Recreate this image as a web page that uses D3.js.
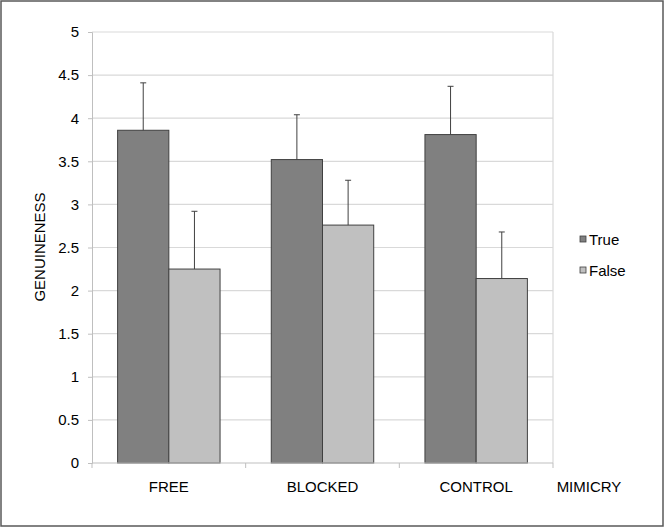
<!DOCTYPE html>
<html>
<head>
<meta charset="utf-8">
<script src="https://cdn.jsdelivr.net/npm/d3@7"></script>
<style>
  body { margin: 0; background: #fff; }
  text { font-family: "Liberation Sans", Arial, sans-serif; fill: #000; }
</style>
</head>
<body>
<div class="chart"></div>
<script>
const categories = ['FREE', 'BLOCKED', 'CONTROL']
const series = ['True', 'False']
const trueValues = [3.86, 3.52, 3.81]
const falseValues = [2.25, 2.76, 2.14]
const trueErrors = [0.55, 0.52, 0.56]
const falseErrors = [0.67, 0.52, 0.54]
const yTicks = [0, 0.5, 1, 1.5, 2, 2.5, 3, 3.5, 4, 4.5, 5]
const colors = ['#808080', '#c0c0c0']

const W = 664, H = 527
const margin = { top: 32, right: 111, bottom: 64, left: 92 }
const width = W - margin.left - margin.right
const height = H - margin.top - margin.bottom

const svg = d3.select('.chart').append('svg').attr('width', W).attr('height', H)

// outer frame
svg.append('rect').attr('x', 1).attr('y', 1).attr('width', W - 2).attr('height', H - 2)
  .attr('fill', '#fff').attr('stroke', '#595959').attr('stroke-width', 1.5)

const g = svg.append('g').attr('transform', `translate(${margin.left}, ${margin.top})`)

const y = d3.scaleLinear().domain([0, 5]).range([height, 0])
const x0 = d3.scaleBand().domain(categories).range([0, width]).paddingInner(1 / 3).paddingOuter(1 / 6)
const x1 = d3.scaleBand().domain(series).range([0, x0.bandwidth()])

// gridlines
g.selectAll('.grid').data(yTicks.slice(1)).join('line')
  .attr('x1', 0).attr('x2', width)
  .attr('y1', d => y(d)).attr('y2', d => y(d))
  .attr('stroke', '#d9d9d9').attr('stroke-width', 1.2)
g.append('line').attr('x1', width).attr('x2', width).attr('y1', 0).attr('y2', height)
  .attr('stroke', '#d9d9d9').attr('stroke-width', 1.2)

// y axis
const yAxis = d3.axisLeft(y).tickValues(yTicks).tickSize(4).tickPadding(9).tickFormat(d3.format('~g'))
const ya = g.append('g').call(yAxis)
ya.select('.domain').attr('stroke', '#bfbfbf')
ya.selectAll('.tick line').attr('stroke', '#bfbfbf')
ya.selectAll('text').style('font-size', '15px').style('font-family', '"Liberation Sans", Arial, sans-serif')

// bars
const rows = categories.map((c, i) => ({
  cat: c,
  vals: [
    { s: 'True', v: trueValues[i], e: trueErrors[i] },
    { s: 'False', v: falseValues[i], e: falseErrors[i] }
  ]
}))

const groups = g.selectAll('.grp').data(rows).join('g')
  .attr('transform', d => `translate(${x0(d.cat)}, 0)`)

groups.selectAll('rect').data(d => d.vals).join('rect')
  .attr('x', d => x1(d.s)).attr('width', x1.bandwidth())
  .attr('y', d => y(d.v)).attr('height', d => height - y(d.v))
  .attr('fill', (d, i) => colors[i])
  .attr('stroke', '#404040').attr('stroke-width', 1)

// error bars
const eb = groups.selectAll('.eb').data(d => d.vals).join('g')
eb.append('line')
  .attr('x1', d => x1(d.s) + x1.bandwidth() / 2).attr('x2', d => x1(d.s) + x1.bandwidth() / 2)
  .attr('y1', d => y(d.v)).attr('y2', d => y(d.v + d.e))
  .attr('stroke', '#404040').attr('stroke-width', 1)
eb.append('line')
  .attr('x1', d => x1(d.s) + x1.bandwidth() / 2 - 3).attr('x2', d => x1(d.s) + x1.bandwidth() / 2 + 3)
  .attr('y1', d => y(d.v + d.e)).attr('y2', d => y(d.v + d.e))
  .attr('stroke', '#404040').attr('stroke-width', 1)

// x axis
const xa = g.append('g').attr('transform', `translate(0, ${height})`)
xa.append('line').attr('x1', 0).attr('x2', width).attr('stroke', '#bfbfbf').attr('stroke-width', 1.2)
const step = width / categories.length
xa.selectAll('.xt').data(d3.range(categories.length + 1)).join('line')
  .attr('x1', d => d * step).attr('x2', d => d * step)
  .attr('y1', 0).attr('y2', 5).attr('stroke', '#bfbfbf')
xa.selectAll('.xl').data(categories).join('text')
  .attr('x', d => x0(d) + x0.bandwidth() / 2).attr('y', 29)
  .attr('text-anchor', 'middle').style('font-size', '15px').text(d => d)

// axis titles
svg.append('text').attr('x', 589).attr('y', margin.top + height + 29)
  .attr('text-anchor', 'middle').style('font-size', '15px').text('MIMICRY')
svg.append('text').attr('transform', `translate(45, 247) rotate(-90)`)
  .attr('text-anchor', 'middle').style('font-size', '15px').text('GENUINENESS')

// legend
const leg = svg.append('g').attr('transform', 'translate(580, 239)')
const li = leg.selectAll('g').data(series).join('g').attr('transform', (d, i) => `translate(0, ${i * 31})`)
li.append('rect').attr('x', 0).attr('y', -3).attr('width', 6).attr('height', 6)
  .attr('fill', (d, i) => colors[i]).attr('stroke', '#404040').attr('stroke-width', 0.8)
li.append('text').attr('x', 9).attr('y', 5.5).style('font-size', '15px').text(d => d)
</script>
</body>
</html>
